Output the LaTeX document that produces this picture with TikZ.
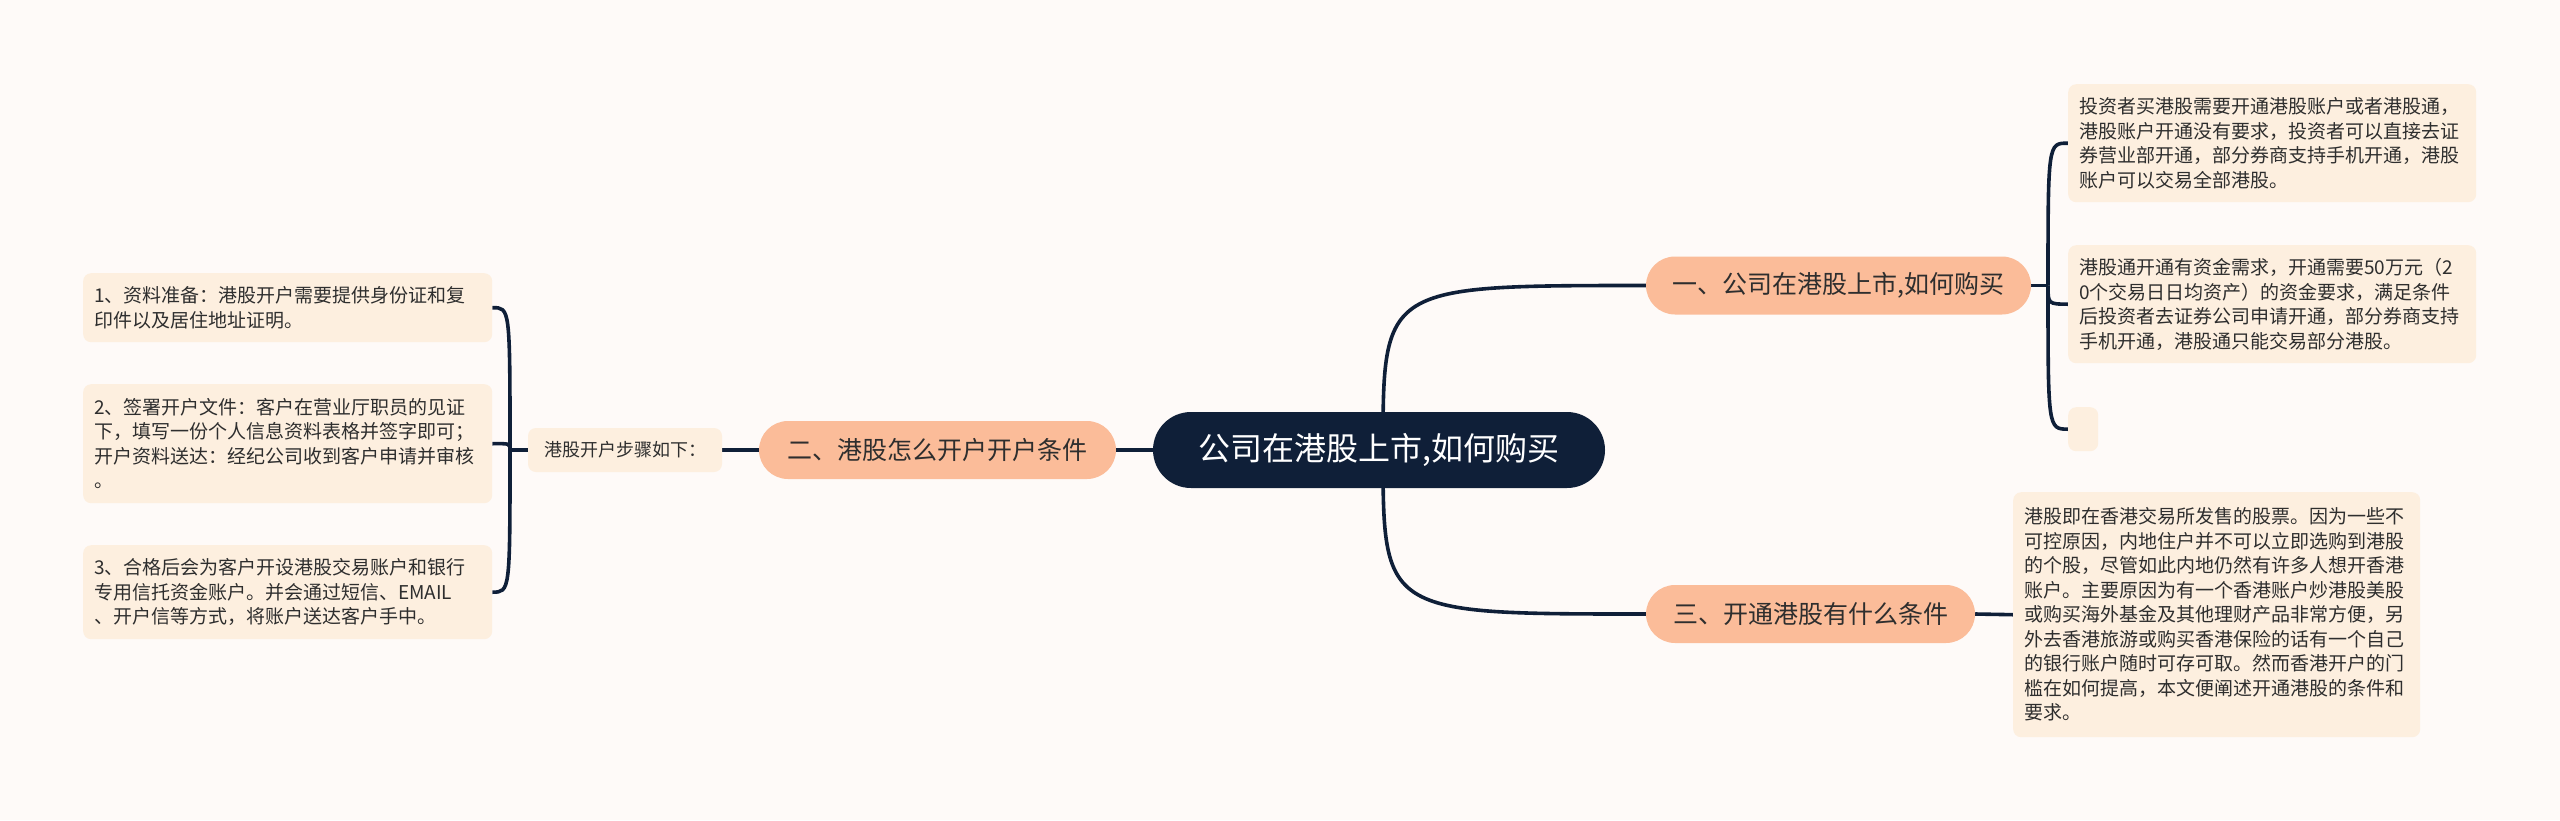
\documentclass[tikz,border=0pt]{standalone}
\usepackage{fontspec}
\setmainfont{Noto Sans CJK SC}
\usetikzlibrary{backgrounds}
\definecolor{bgc}{HTML}{FEFAF8}
\definecolor{navy}{HTML}{0F1F38}
\definecolor{peach}{HTML}{FBBC99}
\definecolor{leafc}{HTML}{FDEFDF}
\definecolor{txt}{HTML}{2E2E2E}
\tikzset{
  rootbox/.style={fill=navy, text=white, rounded corners=38, minimum width=452, minimum height=76, inner sep=0pt, font=\fontsize{32}{38}\selectfont},
  branchbox/.style={fill=peach, text=txt, rounded corners=29, minimum height=58, inner sep=0pt, font=\fontsize{25}{30}\selectfont},
  leafbox/.style={fill=leafc, text=txt, rounded corners=8, anchor=north west, inner xsep=11pt, inner ysep=0pt, align=left, font=\fontsize{19}{24.5}\selectfont},
  labelbox/.style={fill=leafc, text=txt, rounded corners=8, minimum width=194, minimum height=44, inner sep=0pt, font=\fontsize{18}{22}\selectfont},
  link/.style={draw=navy, line width=3.6pt},
}
\begin{document}
\begin{tikzpicture}[x=1pt,y=-1pt]
\useasboundingbox (0,0) rectangle (2560,820);
% right side leaves
\node[leafbox, text width=386, minimum height=118] (A) at (2068,84) {投资者买港股需要开通港股账户或者港股通，\\港股账户开通没有要求，投资者可以直接去证\\券营业部开通，部分券商支持手机开通，港股\\账户可以交易全部港股。};
\node[leafbox, text width=386, minimum height=118] (B) at (2068,245) {港股通开通有资金需求，开通需要50万元（2\\0个交易日日均资产）的资金要求，满足条件\\后投资者去证券公司申请开通，部分券商支持\\手机开通，港股通只能交易部分港股。};
\node[leafbox, inner xsep=0pt, minimum width=30, minimum height=44] (C) at (2068,407) {};
\node[leafbox, text width=385, minimum height=245] (D) at (2013,492) {港股即在香港交易所发售的股票。因为一些不\\可控原因，内地住户并不可以立即选购到港股\\的个股，尽管如此内地仍然有许多人想开香港\\账户。主要原因为有一个香港账户炒港股美股\\或购买海外基金及其他理财产品非常方便，另\\外去香港旅游或购买香港保险的话有一个自己\\的银行账户随时可存可取。然而香港开户的门\\槛在如何提高，本文便阐述开通港股的条件和\\要求。};
% left leaves
\node[leafbox, text width=387, minimum height=69] (L1) at (83,273) {1、资料准备：港股开户需要提供身份证和复\\印件以及居住地址证明。};
\node[leafbox, text width=387, minimum height=119] (L2) at (83,384) {2、签署开户文件：客户在营业厅职员的见证\\下，填写一份个人信息资料表格并签字即可；\\开户资料送达：经纪公司收到客户申请并审核\\。};
\node[leafbox, text width=387, minimum height=94] (L3) at (83,545) {3、合格后会为客户开设港股交易账户和银行\\专用信托资金账户。并会通过短信、EMAIL\\、开户信等方式，将账户送达客户手中。};
% label
\node[labelbox] (lab) at (625,450) {港股开户步骤如下：};
% branches
\node[branchbox, minimum width=357] (n2) at (937.5,450) {二、港股怎么开户开户条件};
\node[branchbox, minimum width=385] (n1) at (1838.5,285.5) {一、公司在港股上市,如何购买};
\node[branchbox, minimum width=329] (n3) at (1810.5,614) {三、开通港股有什么条件};
% root
\node[rootbox] (root) at (1379,450) {公司在港股上市,如何购买};
% connectors
\coordinate (rc) at (1383,450);
\coordinate (lb) at (510,450);
\coordinate (rb) at (2048,285.5);
\begin{pgfonlayer}{background}
\fill[bgc] (0,0) rectangle (2560,820);
\draw[link] (rc) .. controls (1383,285.5) .. (n1.west);
\draw[link] (rc) .. controls (1383,614) .. (n3.west);
\draw[link] (root.west) -- (n2.east);
\draw[link] (n2.west) -- (lab.east);
\draw[link] (lab.west) -- (lb);
\draw[link] (lb) .. controls (510,307.5) .. (L1.east);
\draw[link] (lb) .. controls (510,443.5) .. (L2.east);
\draw[link] (lb) .. controls (510,592) .. (L3.east);
\draw[link] (n1.east) -- (rb);
\draw[link] (rb) .. controls (2048,143) .. (A.west);
\draw[link] (rb) .. controls (2048,304) .. (B.west);
\draw[link] (rb) .. controls (2048,429) .. (C.west);
\draw[link] (n3.east) -- (D.west);
\end{pgfonlayer}
\end{tikzpicture}
\end{document}
